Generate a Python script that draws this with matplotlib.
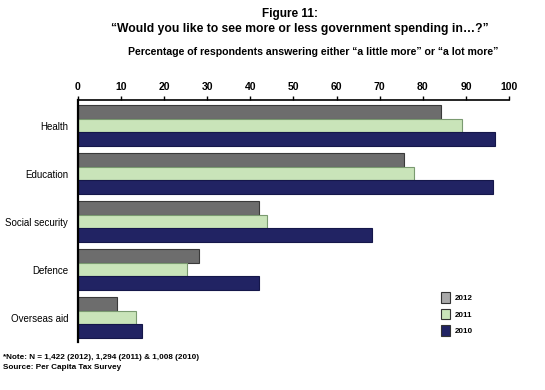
import numpy as np
import matplotlib.pyplot as plt
from matplotlib.patches import Patch

plt.rcParams["font.family"] = ["Liberation Sans", "DejaVu Sans"]

# data
categories = ["Health", "Education", "Social security", "Defence", "Overseas aid"]
years = ["2012", "2011", "2010"]
v2012 = [84.2, 75.6, 41.9, 28.0, 9.0]
v2011 = [89.0, 77.9, 43.9, 25.4, 13.5]
v2010 = [96.7, 96.2, 68.2, 42.1, 14.9]
ticks = list(range(0, 101, 10))

colors = ["#6d6d6d", "#c9e4b9", "#212363"]
edges = ["#3a3a3a", "#7a9a70", "#15174a"]
legend_colors = ["#a9a9a9", "#c9e4b9", "#212363"]

fig = plt.figure(figsize=(5.45, 3.9), dpi=100)
ax = fig.add_axes([0.143, 0.124, 0.791, 0.620])

y = np.arange(len(categories))
h = 0.285
for i, vals in enumerate([v2012, v2011, v2010]):
    ax.barh(y + (i - 1) * h, vals, height=h, color=colors[i],
            edgecolor=edges[i], linewidth=0.8, zorder=2)

ax.set_xlim(0, 100)
ax.set_ylim(4.5, -0.535)
ax.set_yticks(y)
ax.set_yticklabels(categories, fontsize=7)
ax.tick_params(axis="y", length=0, pad=7)

ax.xaxis.tick_top()
ax.set_xticks(ticks)
ax.set_xticklabels([str(t) for t in ticks], fontsize=7.5, fontweight="bold")
ax.tick_params(axis="x", direction="out", length=3, width=1, pad=3)

for s in ["right", "bottom"]:
    ax.spines[s].set_visible(False)
ax.spines["top"].set_linewidth(1.2)
ax.spines["left"].set_linewidth(1.6)

# titles
fig.text(0.532, 0.965, "Figure 11:", ha="center", va="center",
         fontsize=8.5, fontweight="bold")
fig.text(0.55, 0.925, "\u201cWould you like to see more or less government spending in\u2026?\u201d",
         ha="center", va="center", fontsize=8.7, fontweight="bold")
fig.text(0.575, 0.866, "Percentage of respondents answering either \u201ca little more\u201d or \u201ca lot more\u201d",
         ha="center", va="center", fontsize=7.6, fontweight="bold")

# legend
handles = [Patch(facecolor=legend_colors[i], edgecolor="#333333", linewidth=0.8)
           for i in range(3)]
fig.legend(handles, years, loc="center left", bbox_to_anchor=(0.795, 0.195),
           frameon=False, prop={"weight": "bold", "size": 5.8},
           handlelength=1.2, handleheight=1.6, labelspacing=0.75, handletextpad=0.6)

# notes
fig.text(0.006, 0.083, "*Note: N = 1,422 (2012), 1,294 (2011) & 1,008 (2010)",
         ha="left", va="center", fontsize=5.9, fontweight="bold")
fig.text(0.006, 0.057, "Source: Per Capita Tax Survey",
         ha="left", va="center", fontsize=5.9, fontweight="bold")

fig.savefig("out.png", dpi=100)
